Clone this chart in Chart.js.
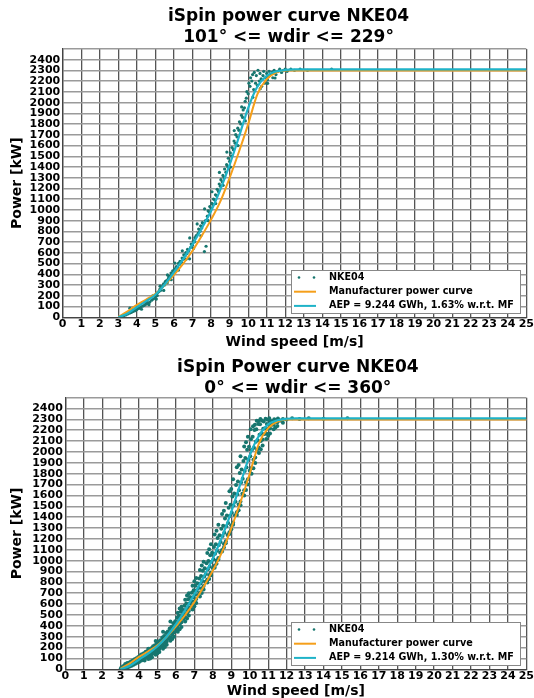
<!DOCTYPE html>
<html>
<head>
<meta charset="utf-8">
<script src="https://cdn.jsdelivr.net/npm/chart.js@4.4.1/dist/chart.umd.min.js"></script>
<style>
body{margin:0;background:#fff;overflow:hidden;}
.box{position:absolute;left:0;width:534px;height:349px;}
</style>
</head>
<body>
<div class="box" style="top:0"><canvas id="chartTop"></canvas></div>
<div class="box" style="top:349px"><canvas id="chartBottom"></canvas></div>
<script>
// manufacturer curve, same in both plots
const mfSpeed = [3,3.5,4,4.5,5,5.5,6,6.5,7,7.5,8,8.5,9,9.5,10,10.5,11,11.5,12,12.5,13,14,15,16,17,18,19,20,21,22,23,24,25];
const mfPower = [5,55,115,165,220,300,395,500,620,760,910,1080,1300,1540,1800,2080,2220,2280,2300,2300,2300,2300,2300,2300,2300,2300,2300,2300,2300,2300,2300,2300,2300];
// measured (AEP) curves on the same speed bins
const aepPowerTop = [0,35,95,150,210,305,420,545,680,830,990,1190,1420,1680,1950,2150,2250,2290,2305,2310,2310,2310,2310,2310,2310,2310,2310,2310,2310,2310,2310,2310,2310];
const aepPowerBottom = [0,32,90,146,212,302,415,545,690,850,1020,1220,1450,1710,1970,2150,2255,2292,2306,2310,2310,2310,2310,2310,2310,2310,2310,2310,2310,2310,2310,2310,2310];

// 10-min samples, [wind speed, power]
const nkeTop = [[3.2,5],[3.3,15],[3.4,22],[3.5,30],[3.6,38],[3.62,85],[3.7,45],[3.8,55],[3.9,62],[4.0,72],[4.03,95],[4.1,82],[4.2,92],[4.3,104],[4.4,112],[4.5,122],[4.53,150],[4.6,132],[4.7,142],[4.8,160],[4.9,172],[5.0,190],[5.04,212],[5.1,202],[5.13,232],[5.2,242],[5.24,262],[5.3,252],[5.33,282],[5.4,292],[5.44,312],[5.5,302],[5.53,332],[5.6,342],[5.64,322],[5.7,362],[5.73,382],[5.8,384],[5.84,412],[5.9,402],[5.93,432],[6.0,422],[6.04,452],[6.1,442],[6.13,472],[6.2,462],[6.24,502],[6.3,492],[6.33,522],[6.4,512],[6.44,552],[6.5,542],[6.53,582],[6.6,572],[6.64,602],[6.7,592],[6.73,632],[6.8,622],[6.84,545],[6.9,652],[6.93,682],[7.0,672],[7.04,712],[7.1,702],[7.13,742],[7.2,762],[7.3,782],[7.33,822],[7.4,802],[7.44,852],[7.5,832],[7.53,882],[7.6,872],[7.64,612],[7.7,902],[7.73,662],[7.8,942],[7.84,992],[7.9,982],[7.93,1032],[8.0,1012],[8.04,1062],[8.1,1052],[8.13,1102],[8.2,1092],[8.24,1142],[8.3,1132],[8.33,1192],[8.4,1172],[8.44,1242],[8.5,1222],[8.53,1282],[8.6,1262],[8.64,1322],[8.7,1302],[8.73,1382],[8.8,1352],[8.84,1422],[8.9,1402],[8.93,1482],[9.0,1452],[9.04,1532],[9.1,1502],[9.13,1582],[9.2,1562],[9.24,1642],[9.3,1622],[9.33,1702],[9.4,1682],[9.44,1762],[9.5,1742],[9.53,1822],[9.6,1802],[9.64,1882],[9.7,1862],[9.73,1932],[9.8,1952],[9.84,2012],[9.9,2042],[9.93,2102],[10.0,2082],[10.04,2182],[10.1,2152],[10.13,2232],[10.2,2202],[10.24,2262],[10.3,2122],[10.33,2282],[10.4,2182],[10.44,2252],[10.5,2162],[10.53,2302],[10.6,2202],[10.64,2272],[10.7,2222],[10.73,2152],[10.8,2252],[10.84,2292],[10.9,2182],[10.93,2232],[11.0,2272],[11.04,2212],[11.1,2242],[11.13,2292],[11.2,2262],[11.3,2282],[11.33,2232],[11.4,2302],[11.5,2262],[11.6,2292],[11.7,2312],[11.8,2282],[11.9,2302],[12.0,2312],[12.1,2292],[12.3,2312],[12.5,2302],[12.8,2312],[13.2,2302],[14.5,2312],
  [4.25,75],[4.65,118],[5.05,170],[5.45,250],[5.85,350],[6.25,440],[6.65,540],[7.05,640],[7.45,760],[7.85,900],[8.25,1060],[8.65,1230],[9.05,1400],[9.45,1600],[9.85,1830],[10.25,2050],[10.65,2130],[11.05,2180],[11.45,2230],
  [4.45,140],[4.85,200],[5.25,290],[5.65,395],[6.05,505],[6.45,620],[6.85,740],[7.25,870],[7.65,1010],[8.05,1170],[8.45,1350],[8.85,1540],[9.25,1740],[9.65,1960]];

const nkeBottom = [[3.0,2],[3.04,16],[3.1,6],[3.13,28],[3.18,10],[3.22,34],[3.25,48],[3.3,14],[3.33,38],[3.36,57],[3.4,20],[3.44,44],[3.47,63],[3.5,25],[3.53,48],[3.56,72],[3.6,33],[3.63,58],[3.66,82],[3.7,41],[3.72,67],[3.76,93],[3.8,50],[3.83,77],[3.86,101],[3.9,60],[3.92,86],[3.96,113],[4.0,67],[4.03,97],[4.06,124],[4.1,78],[4.12,104],[4.16,138],[4.2,86],[4.23,118],[4.26,147],[4.3,97],[4.33,127],[4.36,162],[4.4,108],[4.42,140],[4.46,168],[4.5,116],[4.53,152],[4.56,188],[4.6,130],[4.62,161],[4.66,193],[4.7,138],[4.73,175],[4.76,212],[4.8,153],[4.83,184],[4.86,222],[4.9,163],[4.92,200],[4.96,243],[5.0,180],[5.03,210],[5.06,256],[5.1,188],[5.12,231],[5.16,268],[5.2,207],[5.23,243],[5.26,293],[5.3,220],[5.33,265],[5.36,307],[5.4,243],[5.42,280],[5.46,333],[5.5,255],[5.53,305],[5.56,348],[5.6,281],[5.62,320],[5.66,375],[5.7,296],[5.73,348],[5.76,392],[5.8,323],[5.83,366],[5.86,423],[5.9,340],[5.92,395],[5.96,442],[6.0,368],[6.03,413],[6.06,474],[6.1,385],[6.12,443],[6.16,494],[6.2,415],[6.23,463],[6.26,529],[6.3,433],[6.33,496],[6.36,548],[6.4,463],[6.42,515],[6.46,584],[6.5,482],[6.53,549],[6.56,606],[6.6,515],[6.62,570],[6.66,644],[6.7,537],[6.73,605],[6.76,666],[6.8,571],[6.83,626],[6.86,705],[6.9,592],[6.92,664],[6.96,727],[7.0,626],[7.03,686],[7.06,770],[7.1,646],[7.12,725],[7.16,793],[7.2,684],[7.23,749],[7.26,836],[7.3,706],[7.33,790],[7.36,859],[7.4,745],[7.42,812],[7.46,906],[7.5,766],[7.53,855],[7.56,929],[7.6,805],[7.62,878],[7.66,976],[7.7,827],[7.73,922],[7.76,998],[7.8,868],[7.83,946],[7.86,1049],[7.9,890],[7.92,990],[7.96,1073],[8.0,931],[8.03,1014],[8.06,1126],[8.1,954],[8.12,1064],[8.16,1150],[8.2,1002],[8.23,1091],[8.26,1209],[8.3,1024],[8.33,1143],[8.36,1234],[8.4,1076],[8.42,1171],[8.46,1294],[8.5,1098],[8.53,1227],[8.56,1321],[8.6,1153],[8.62,1257],[8.66,1388],[8.7,1178],[8.73,1316],[8.76,1416],[8.8,1237],[8.83,1347],[8.86,1486],[8.9,1262],[8.92,1410],[8.96,1515],[9.0,1325],[9.03,1442],[9.06,1590],[9.1,1351],[9.12,1508],[9.16,1619],[9.2,1418],[9.23,1543],[9.26,1697],[9.3,1446],[9.33,1612],[9.36,1728],[9.4,1516],[9.42,1648],[9.46,1808],[9.5,1545],[9.53,1720],[9.56,1838],[9.6,1617],[9.62,1754],[9.66,1918],[9.7,1647],[9.73,1826],[9.76,1946],[9.8,1722],[9.83,1858],[9.86,2022],[9.9,1750],[9.92,1930],[9.96,2048],[10.0,1828],[10.03,1960],[10.06,2117],[10.1,1852],[10.12,2022],[10.16,2140],[10.18,2238],[10.2,1928],[10.23,2040],[10.26,2202],[10.28,2252],[10.3,1950],[10.33,2095],[10.36,2210],[10.38,2288],[10.4,2022],[10.42,2108],[10.46,2257],[10.48,2286],[10.5,2040],[10.53,2160],[10.56,2255],[10.58,2304],[10.6,2102],[10.63,2170],[10.66,2290],[10.7,2115],[10.73,2215],[10.76,2282],[10.8,2167],[10.83,2218],[10.86,2306],[10.9,2170],[10.93,2258],[10.96,2296],[11.0,2215],[11.03,2255],[11.06,2310],[11.1,2218],[11.13,2286],[11.2,2250],[11.23,2280],[11.3,2252],[11.33,2302],[11.4,2276],[11.43,2294],[11.5,2274],[11.53,2308],[11.6,2292],[11.7,2288],[11.8,2304],[12.0,2300],[12.3,2310],[12.7,2304],[13.2,2310],[14.0,2306],[15.3,2310],
  [6.1,520],[6.3,575],[6.5,640],[6.7,700],[6.9,770],[7.1,840],[7.3,915],[7.5,990],[7.7,1070],[7.9,1150],[8.1,1240],[8.3,1330],[8.5,1430],[8.7,1530],[8.9,1640],[9.1,1750],[9.3,1860],[9.5,1960],[9.7,2050],[9.9,2140],[10.05,2210],
  [4.1,135],[4.5,190],[4.9,260],[5.3,345],[5.7,440],[6.2,560],[6.6,680],[7.0,810],[7.4,955],[7.8,1105],[8.2,1275],[8.6,1460],[9.0,1660],[9.4,1880],[9.8,2090],
  [4.3,80],[4.5,95],[4.7,112],[4.9,135],[5.1,160],[5.3,190],[5.5,225],[5.7,262],[5.9,300],[6.1,345],[6.3,390],[6.5,440],[6.7,495],[6.9,550],[7.1,610],[7.3,670],[7.5,735],[7.7,800],[7.9,865],[8.1,935],[8.3,1010],[8.5,1085],[8.7,1160],[8.9,1245],[9.1,1330],[9.3,1420],[9.5,1510],[9.7,1600],[9.9,1700],[10.1,1800],[10.3,1900],[10.5,1990],[10.7,2060],[10.9,2120],[11.1,2170],[11.3,2210],[11.5,2240],
  [4.6,100],[5.0,148],[5.4,205],[5.8,280],[6.2,368],[6.6,468],[7.0,580],[7.4,702],[7.8,832],[8.2,972],[8.6,1122],[9.0,1288],[9.4,1465],[9.8,1650],[10.2,1850],[10.6,2025],[11.0,2150],[11.4,2225],[11.8,2270]];

const FONT = '"DejaVu Sans", sans-serif';

// two-line title centred over the plot area
const plotTitle = {
  id: 'plotTitle',
  afterDraw(chart, args, opts) {
    const ctx = chart.ctx, a = chart.chartArea;
    ctx.save();
    ctx.font = 'bold 17px ' + FONT;
    ctx.fillStyle = '#000';
    ctx.textAlign = 'center';
    ctx.textBaseline = 'middle';
    opts.text.forEach((t, i) => ctx.fillText(t, (a.left + a.right) / 2 + opts.dx, opts.y + 20.4 * i));
    ctx.restore();
  }
};

// legend drawn inside the plot, bottom right
const boxLegend = {
  id: 'boxLegend',
  afterDatasetsDraw(chart) {
    const ctx = chart.ctx, a = chart.chartArea;
    const w = 229, h = 43;
    const x0 = Math.round(a.right - 6.5 - w), y0 = Math.round(a.bottom - 4.5 - h);
    ctx.save();
    ctx.fillStyle = '#fff';
    ctx.strokeStyle = '#888';
    ctx.lineWidth = 1;
    ctx.fillRect(x0, y0, w, h);
    ctx.strokeRect(x0 + 0.5, y0 + 0.5, w, h);
    ctx.font = 'bold 9.6px ' + FONT;
    ctx.textBaseline = 'middle';
    chart.data.datasets.forEach((ds, i) => {
      const y = y0 + 7.5 + 14.2 * i;
      if (ds.showLine) {
        ctx.strokeStyle = ds.borderColor;
        ctx.lineWidth = 2;
        ctx.beginPath();
        ctx.moveTo(x0 + 3, y);
        ctx.lineTo(x0 + 25, y);
        ctx.stroke();
      } else {
        ctx.fillStyle = ds.backgroundColor;
        [x0 + 8, x0 + 23].forEach(px => {
          ctx.beginPath();
          ctx.arc(px, y, 1.3, 0, Math.PI * 2);
          ctx.fill();
        });
      }
      ctx.fillStyle = '#000';
      ctx.fillText(ds.label, x0 + 38, y);
    });
    ctx.restore();
  }
};

function makeChart(id, title, samples, aepPower, aepLabel, g) {
  new Chart(document.getElementById(id), {
    type: 'scatter',
    data: {
      datasets: [
        {label: 'NKE04', data: samples.map(p => ({x: p[0], y: p[1]})),
         backgroundColor: '#17766f', borderWidth: 0, pointRadius: g.dot, order: 3},
        {label: 'Manufacturer power curve', data: mfSpeed.map((s, i) => ({x: s, y: mfPower[i]})),
         showLine: true, borderColor: '#f59f1a', borderWidth: 2, pointRadius: 0,
         cubicInterpolationMode: 'monotone', order: 2},
        {label: aepLabel, data: mfSpeed.map((s, i) => ({x: s, y: aepPower[i]})),
         showLine: true, borderColor: '#1fb3c8', borderWidth: 2.2, pointRadius: 0,
         cubicInterpolationMode: 'monotone', order: 1}
      ]
    },
    options: {
      responsive: true,
      maintainAspectRatio: false,
      animation: false,
      devicePixelRatio: 1,
      layout: {padding: {left: 0, right: 534 - g.right, top: g.top, bottom: 0}},
      plugins: {
        legend: {display: false},
        tooltip: {enabled: false},
        plotTitle: {text: title, y: g.titleY, dx: g.titleDx}
      },
      scales: {
        x: {
          type: 'linear', min: 0, max: 25,
          afterFit: s => { s.height = 349 - g.bottom; },
          ticks: {stepSize: 1, autoSkip: false, maxRotation: 0, color: '#000', padding: 0,
            font: {family: FONT, size: 11, weight: 'bold', lineHeight: 1.2}},
          grid: {color: '#555', lineWidth: 1.3, drawTicks: false},
          border: {color: '#444', width: 1.3},
          title: {display: true, text: 'Wind speed [m/s]', color: '#000', padding: 0,
            font: {family: FONT, size: 14, weight: 'bold', lineHeight: 1.0}}
        },
        y: {
          min: 0, max: 2500,
          afterFit: s => { s.width = g.left; },
          ticks: {stepSize: 100, autoSkip: false, color: '#000', padding: 2.5,
            callback: v => v === 2500 ? '' : v,
            font: {family: FONT, size: 11, weight: 'bold', lineHeight: 1.0}},
          grid: {color: '#9a9a9a', lineWidth: 1.6, drawTicks: false},
          border: {color: '#444', width: 1.3},
          title: {display: true, text: 'Power [kW]', color: '#000', padding: {top: 9, bottom: 0},
            font: {family: FONT, size: 14, weight: 'bold', lineHeight: 1.2}}
        }
      }
    },
    plugins: [boxLegend, plotTitle]
  });
}

makeChart('chartTop', ['iSpin power curve NKE04', '101° <= wdir <= 229°'], nkeTop, aepPowerTop,
  'AEP = 9.244 GWh, 1.63% w.r.t. MF',
  {left: 62.7, right: 527, top: 49, bottom: 317.3, titleY: 17, titleDx: -6, dot: 1.6});
makeChart('chartBottom', ['iSpin Power curve NKE04', '0° <= wdir <= 360°'], nkeBottom, aepPowerBottom,
  'AEP = 9.214 GWh, 1.30% w.r.t. MF',
  {left: 65.3, right: 527.5, top: 48.7, bottom: 320.3, titleY: 19, titleDx: 2, dot: 2.0});
</script>
</body>
</html>
